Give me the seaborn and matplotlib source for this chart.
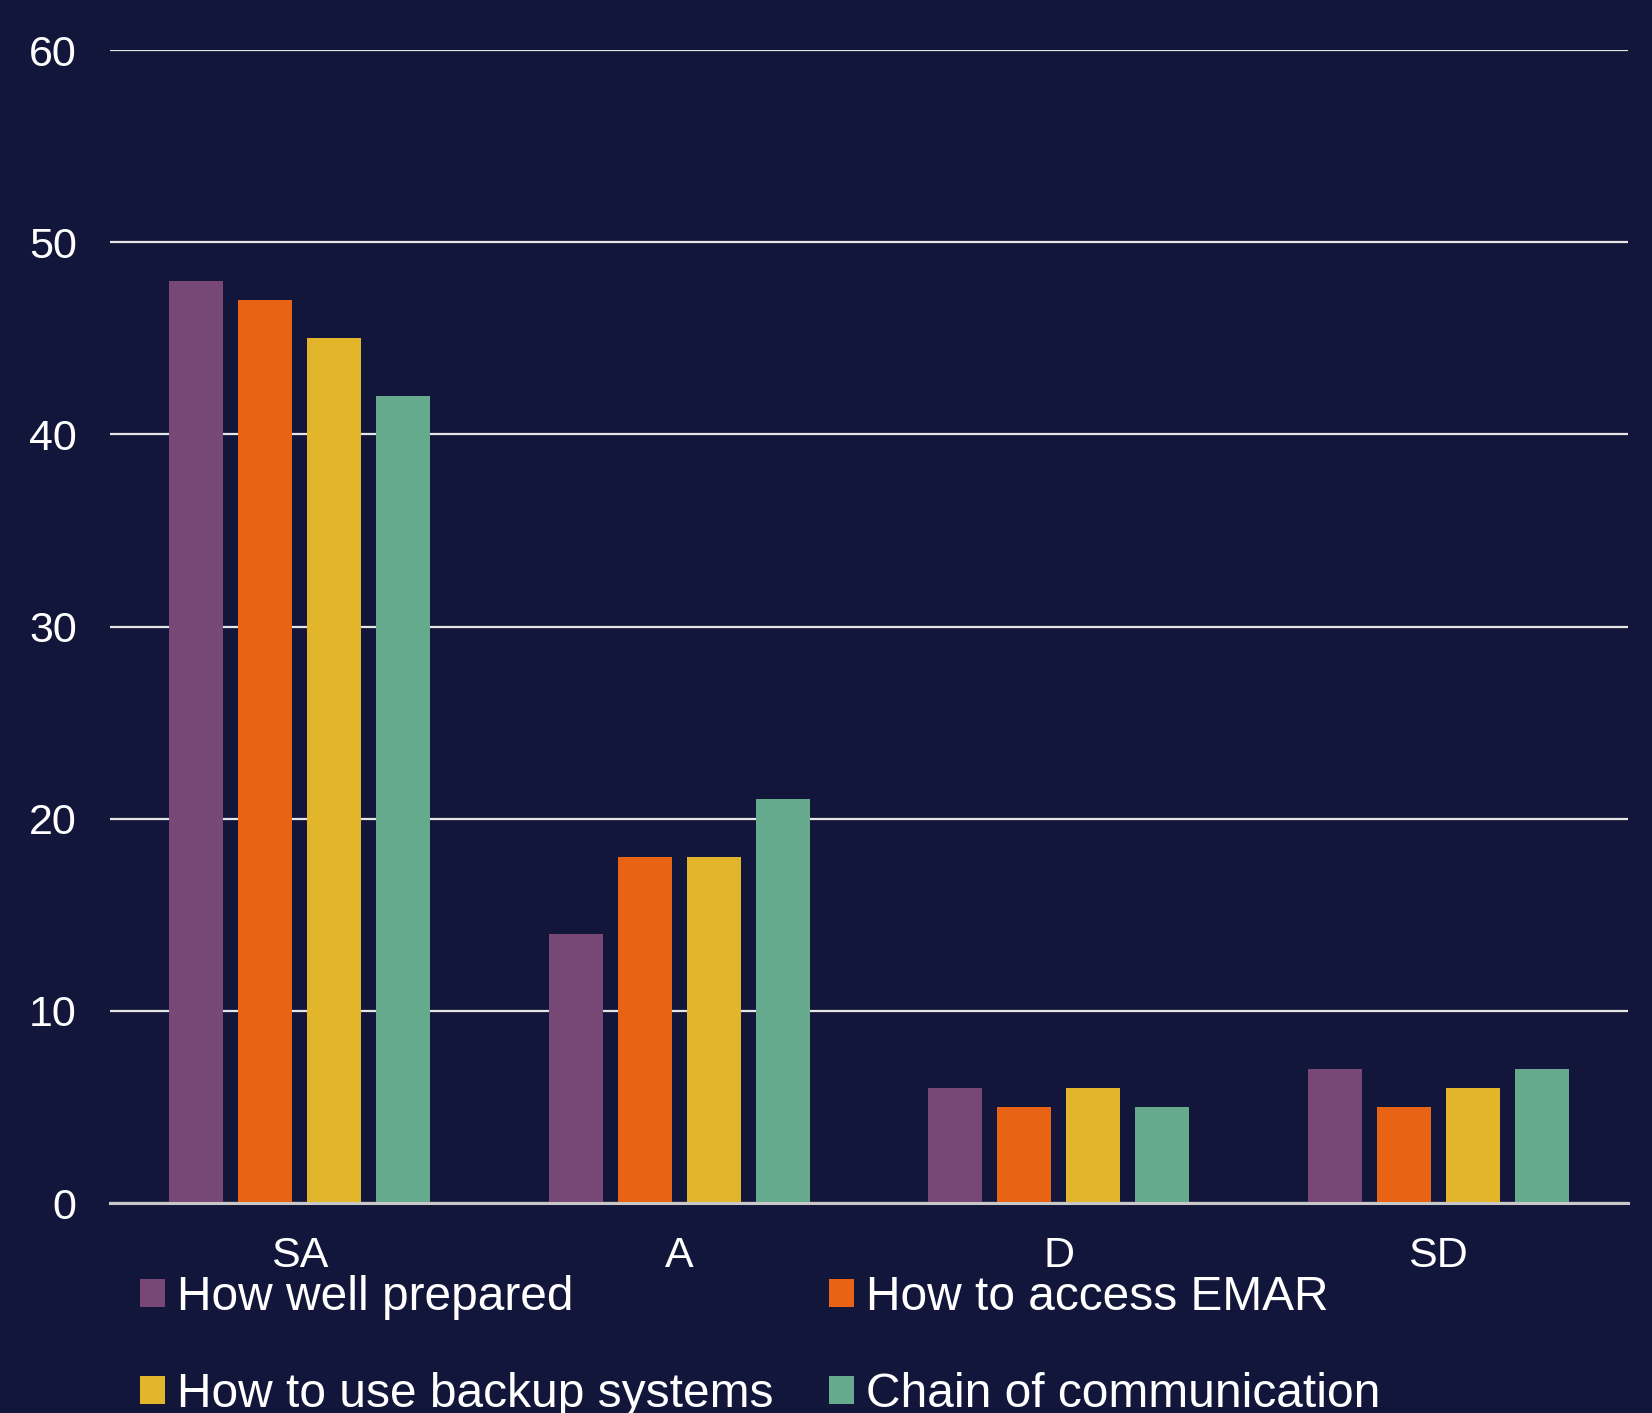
import matplotlib
import matplotlib.pyplot as plt
import pandas as pd
import seaborn as sns
from matplotlib.patches import Patch

matplotlib.use("Agg")

# --- DATA ---
CATEGORIES = ["SA", "A", "D", "SD"]
SERIES = ["How well prepared", "How to access EMAR",
          "How to use backup systems", "Chain of communication"]
WELL_PREPARED = [48, 14, 6, 7]
ACCESS_EMAR = [47, 18, 5, 5]
BACKUP_SYSTEMS = [45, 18, 6, 6]
CHAIN_COMM = [42, 21, 5, 7]
Y_TICKS = [0, 10, 20, 30, 40, 50, 60]

COLORS = ["#774875", "#E86313", "#E3B52A", "#66AA8E"]
BG = "#12163A"


def build_frame() -> pd.DataFrame:
    rows = []
    for name, vals in zip(SERIES, [WELL_PREPARED, ACCESS_EMAR, BACKUP_SYSTEMS, CHAIN_COMM]):
        for cat, v in zip(CATEGORIES, vals):
            rows.append({"category": cat, "series": name, "value": v})
    return pd.DataFrame(rows)


def main():
    df = build_frame()

    sns.set_theme(style="white")
    plt.rcParams["font.family"] = ["Liberation Sans", "DejaVu Sans"]

    fig = plt.figure(figsize=(16.52, 14.13), dpi=100, facecolor=BG)
    ax = fig.add_axes([0.0666, 0.1486, 0.9189, 0.816])
    ax.set_facecolor(BG)

    sns.barplot(data=df, x="category", y="value", hue="series",
                order=CATEGORIES, hue_order=SERIES, palette=COLORS,
                width=0.728, gap=0.22, saturation=1, ax=ax, legend=False,
                edgecolor="none")

    ax.set_ylim(0, 60)
    ax.set_xlim(-0.5, 3.5)
    ax.set_yticks(Y_TICKS)
    ax.set_xlabel("")
    ax.set_ylabel("")
    ax.yaxis.grid(True, color="#E6E6E6", linewidth=1.6)
    ax.set_axisbelow(True)
    for side in ["top", "right", "left"]:
        ax.spines[side].set_visible(False)
    ax.spines["bottom"].set_color("#C8C8C8")
    ax.spines["bottom"].set_linewidth(2.2)
    ax.tick_params(axis="both", length=0, labelsize=31, colors="white", pad=24)

    # legend fills row-wise in the reference, matplotlib fills column-wise
    order = [0, 2, 1, 3]
    handles = [Patch(facecolor=COLORS[i], edgecolor="none") for i in order]
    labels = [SERIES[i] for i in order]
    fig.legend(handles, labels, loc="upper left", bbox_to_anchor=(0.085, 1 - 1275 / 1413),
               ncol=2, frameon=False, fontsize=34.5, labelcolor="white",
               handlelength=0.52, handleheight=0.52, handletextpad=0.25,
               columnspacing=1.15, labelspacing=1.08, borderpad=0, borderaxespad=0)

    fig.savefig("out.png", dpi=100, facecolor=BG)
    plt.close(fig)


if __name__ == "__main__":
    main()
